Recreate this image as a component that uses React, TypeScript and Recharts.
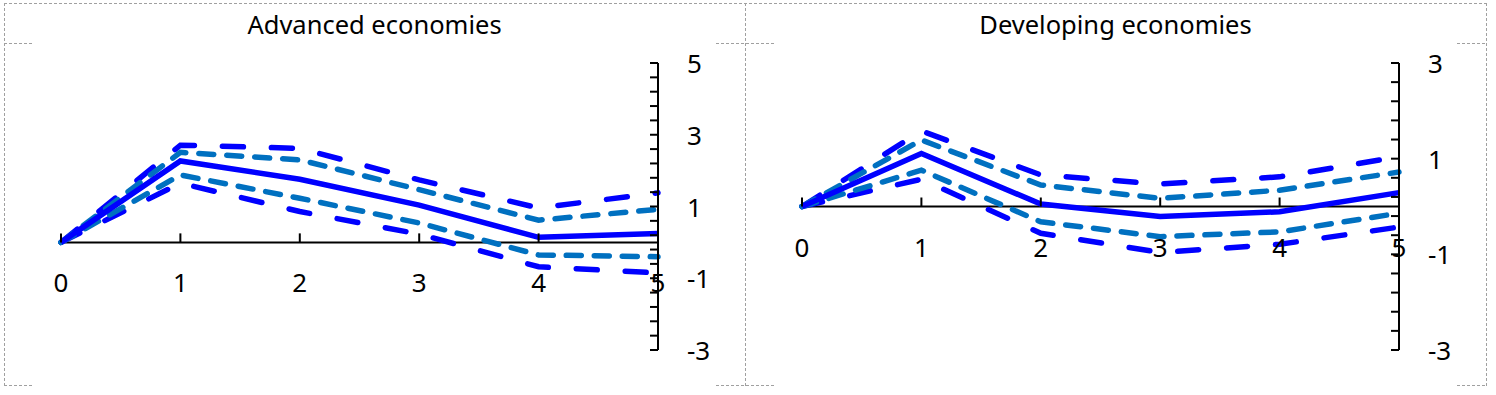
import React from 'react';
import { LineChart, Line, XAxis, YAxis, ReferenceLine, ReferenceDot } from 'recharts';

const FONT = '"Noto Sans", "Open Sans", sans-serif';

const categories = ['0', '1', '2', '3', '4', '5'];

// Advanced economies
const advCentral = [0, 2.27, 1.76, 1.04, 0.14, 0.25];
const advUpper68 = [0, 2.51, 2.30, 1.47, 0.62, 0.92];
const advLower68 = [0, 1.88, 1.23, 0.54, -0.35, -0.40];
const advUpper90 = [0, 2.71, 2.62, 1.74, 0.96, 1.38];
const advLower90 = [0, 1.65, 0.86, 0.23, -0.68, -0.85];

// Developing economies
const devCentral = [0, 1.11, 0.05, -0.21, -0.11, 0.29];
const devUpper68 = [0, 1.39, 0.45, 0.17, 0.34, 0.72];
const devLower68 = [0, 0.76, -0.32, -0.63, -0.53, -0.14];
const devUpper90 = [0, 1.58, 0.66, 0.47, 0.62, 1.04];
const devLower90 = [0, 0.57, -0.56, -0.96, -0.79, -0.43];

const advYTicks = [5, 4.6, 4.2, 3.8, 3.4, 3, 2.6, 2.2, 1.8, 1.4, 1, 0.6, 0.2, -0.2, -0.6, -1, -1.4, -1.8, -2.2, -2.6, -3];
const advYLabels = [5, 3, 1, -1, -3];
const devYTicks = [3, 2.6, 2.2, 1.8, 1.4, 1, 0.6, 0.2, -0.2, -0.6, -1, -1.4, -1.8, -2.2, -2.6, -3];
const devYLabels = [3, 1, -1, -3];

function buildRows(c: number[], u68: number[], l68: number[], u90: number[], l90: number[]) {
  return categories.map((cat, i) => ({ cat, c: c[i], u68: u68[i], l68: l68[i], u90: u90[i], l90: l90[i] }));
}

const advRows = buildRows(advCentral, advUpper68, advLower68, advUpper90, advLower90);
const devRows = buildRows(devCentral, devUpper68, devLower68, devUpper90, devLower90);

function YTick(props: any) {
  const { x, y, payload, labels } = props;
  const v = payload.value;
  const show = labels.some((l: number) => Math.abs(l - v) < 1e-6);
  return (
    <g>
      <line x1={x - 8} y1={y} x2={x} y2={y} stroke="#000" strokeWidth={2} />
      {show && (
        <text x={x + 29} y={y} textAnchor="start" dominantBaseline="central" fontSize={26} fontFamily={FONT} fill="#000">
          {String(v)}
        </text>
      )}
    </g>
  );
}

function makeXTick(label: string) {
  return (p: any) => (
    <g>
      <line x1={p.cx} y1={p.cy - 9} x2={p.cx} y2={p.cy} stroke="#000" strokeWidth={2} />
      <text x={p.cx} y={p.cy + 40} textAnchor="middle" dominantBaseline="central" fontSize={26} fontFamily={FONT} fill="#000">
        {label}
      </text>
    </g>
  );
}

function Panel({ title, rows, domain, ticks, labels, left }: any) {
  const W = 741;
  const H = 395;
  return (
    <div style={{ position: 'absolute', left, top: 0, width: W, height: H }}>
      <LineChart width={W} height={H} data={rows} margin={{ top: 63, right: 0, bottom: 45, left: 57 }}>
        <XAxis dataKey="cat" hide />
        <YAxis
          orientation="right"
          type="number"
          domain={domain}
          ticks={ticks}
          interval={0}
          width={87}
          allowDataOverflow
          axisLine={{ stroke: '#000', strokeWidth: 2 }}
          tickLine={false}
          tickSize={0}
          tickMargin={0}
          tick={<YTick labels={labels} />}
        />
        <ReferenceLine y={0} stroke="#000" strokeWidth={2} />
        {categories.map((c) => (
          <ReferenceDot key={c} x={c} y={0} r={0} shape={makeXTick(c)} />
        ))}
        <Line dataKey="u90" stroke="#0000FF" strokeWidth={5.5} strokeDasharray="21 28" strokeLinecap="round" dot={false} activeDot={false} isAnimationActive={false} />
        <Line dataKey="l90" stroke="#0000FF" strokeWidth={5.5} strokeDasharray="21 28" strokeLinecap="round" dot={false} activeDot={false} isAnimationActive={false} />
        <Line dataKey="u68" stroke="#0070C0" strokeWidth={5.5} strokeDasharray="15 13" strokeLinecap="round" dot={false} activeDot={false} isAnimationActive={false} />
        <Line dataKey="l68" stroke="#0070C0" strokeWidth={5.5} strokeDasharray="15 13" strokeLinecap="round" dot={false} activeDot={false} isAnimationActive={false} />
        <Line dataKey="c" stroke="#0000FF" strokeWidth={5.5} dot={false} activeDot={false} isAnimationActive={false} />
      </LineChart>
      <div
        style={{
          position: 'absolute',
          left: 0,
          top: 7,
          width: W,
          textAlign: 'center',
          fontSize: 25.5,
          lineHeight: '34px',
          fontFamily: FONT,
          color: '#000',
        }}
      >
        {title}
      </div>
    </div>
  );
}

function Frame() {
  const s = { stroke: '#A0A0A0', strokeWidth: 1, strokeDasharray: '3 2', fill: 'none' };
  return (
    <svg width={1496} height={395} style={{ position: 'absolute', left: 0, top: 0, pointerEvents: 'none' }}>
      <line x1={4} y1={3.5} x2={1487} y2={3.5} {...s} />
      <line x1={4.5} y1={3} x2={4.5} y2={386} {...s} />
      <line x1={745.5} y1={3} x2={745.5} y2={386} {...s} />
      <line x1={1486.5} y1={3} x2={1486.5} y2={386} {...s} />
      <line x1={4} y1={43.5} x2={34} y2={43.5} {...s} />
      <line x1={716} y1={43.5} x2={776} y2={43.5} {...s} />
      <line x1={1457} y1={43.5} x2={1487} y2={43.5} {...s} />
      <line x1={4} y1={385.5} x2={34} y2={385.5} {...s} />
      <line x1={716} y1={385.5} x2={776} y2={385.5} {...s} />
      <line x1={1457} y1={385.5} x2={1487} y2={385.5} {...s} />
    </svg>
  );
}

export default function App() {
  return (
    <div style={{ position: 'absolute', left: 0, top: 0, width: 1496, height: 395, background: '#fff' }}>
      <Panel title="Advanced economies" rows={advRows} domain={[-3, 5]} ticks={advYTicks} labels={advYLabels} left={4} />
      <Panel title="Developing economies" rows={devRows} domain={[-3, 3]} ticks={devYTicks} labels={devYLabels} left={745} />
      <Frame />
    </div>
  );
}
